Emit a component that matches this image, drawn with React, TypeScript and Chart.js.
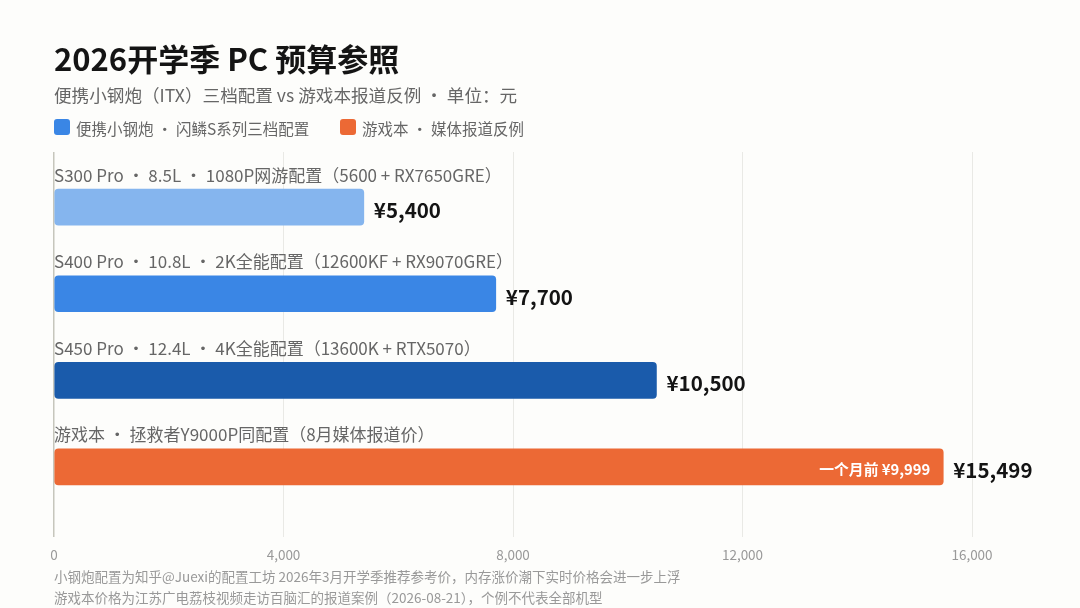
import React, { useRef, useEffect } from 'react';
import { Chart, registerables } from 'chart.js';

Chart.register(...registerables);

const FONT = '"Noto Sans CJK SC", "Noto Sans", sans-serif';

const configs = [
  'S300 Pro · 8.5L · 1080P网游配置（5600 + RX7650GRE）',
  'S400 Pro · 10.8L · 2K全能配置（12600KF + RX9070GRE）',
  'S450 Pro · 12.4L · 4K全能配置（13600K + RTX5070）',
  '游戏本 · 拯救者Y9000P同配置（8月媒体报道价）',
];
const prices = [5400, 7700, 10500, 15499];
const barColors = ['#85B5EE', '#3A86E5', '#1A5BAB', '#EC6935'];
const insideNotes = ['', '', '', '一个月前 ¥9,999'];
const xTicks = [0, 4000, 8000, 12000, 16000];

const legendItems = [
  { label: '便携小钢炮 · 闪鳞S系列三档配置', color: '#3A86E5' },
  { label: '游戏本 · 媒体报道反例', color: '#EC6935' },
];
const footnotes = [
  '小钢炮配置为知乎@Juexi的配置工坊 2026年3月开学季推荐参考价，内存涨价潮下实时价格会进一步上浮',
  '游戏本价格为江苏广电荔枝视频走访百脑汇的报道案例（2026-08-21），个例不代表全部机型',
];

const fmt = (v: number) => v.toLocaleString('en-US');

// text above and beside each bar
const barText = {
  id: 'barText',
  afterDatasetsDraw(chart: any) {
    const { ctx } = chart;
    const bars = chart.getDatasetMeta(0).data;
    ctx.save();
    bars.forEach((bar: any, i: number) => {
      ctx.textBaseline = 'middle';
      ctx.textAlign = 'left';
      ctx.fillStyle = '#666';
      ctx.font = `400 17px ${FONT}`;
      ctx.fillText(configs[i], chart.scales.x.left, bar.y - 32);

      ctx.fillStyle = '#141414';
      ctx.font = `700 20.5px ${FONT}`;
      ctx.fillText('¥' + fmt(prices[i]), bar.x + 10, bar.y + 3);

      if (insideNotes[i]) {
        ctx.textAlign = 'right';
        ctx.fillStyle = '#fff';
        ctx.font = `700 14.8px ${FONT}`;
        ctx.fillText(insideNotes[i], bar.x - 13, bar.y + 2);
      }
    });
    ctx.restore();
  },
};

const App: React.FC = () => {
  const canvas = useRef<HTMLCanvasElement>(null);

  useEffect(() => {
    if (!canvas.current) return;
    document.body.style.margin = '0';
    document.body.style.background = '#FDFDFB';

    const chart = new Chart(canvas.current, {
      type: 'bar',
      data: {
        datasets: [
          {
            data: prices.map((p, i) => ({ x: p, y: i })),
            backgroundColor: barColors,
            barThickness: 36,
            borderRadius: 4,
            borderSkipped: false,
          },
        ],
      },
      options: {
        indexAxis: 'y',
        animation: false,
        responsive: false,
        maintainAspectRatio: false,
        layout: { padding: { left: 54, right: 108, top: 152, bottom: 35 } },
        plugins: { legend: { display: false }, tooltip: { enabled: false } },
        scales: {
          x: {
            type: 'linear',
            min: 0,
            max: 16000,
            afterBuildTicks: (scale: any) => {
              scale.ticks = xTicks.map((value) => ({ value }));
            },
            border: { display: false },
            grid: {
              drawTicks: false,
              color: (c: any) => (c.tick.value === 0 ? '#C6C6BC' : '#E9E9E5'),
              lineWidth: (c: any) => (c.tick.value === 0 ? 1.5 : 1),
            },
            ticks: {
              padding: 10,
              maxRotation: 0,
              color: '#999',
              font: { family: FONT, size: 13.5 },
              callback: (v: any) => fmt(Number(v)),
            },
          },
          y: {
            type: 'linear',
            display: false,
            offset: false,
            reverse: true,
            min: -0.637,
            max: 3.807,
          },
        },
      },
      plugins: [barText],
    });

    return () => chart.destroy();
  }, []);

  return (
    <div style={{ position: 'relative', width: 1080, height: 608, overflow: 'hidden', fontFamily: FONT }}>
      <canvas ref={canvas} width={1080} height={608} style={{ display: 'block' }}></canvas>
      <div style={{ position: 'absolute', left: 54, top: 36, fontSize: 31, fontWeight: 700, lineHeight: '44px', color: '#141414', whiteSpace: 'pre' }}>
        2026开学季 PC 预算参照
      </div>
      <div style={{ position: 'absolute', left: 54, top: 83, fontSize: 17.6, lineHeight: '24px', color: '#666', whiteSpace: 'pre' }}>
        便携小钢炮（ITX）三档配置 vs 游戏本报道反例 · 单位：元
      </div>
      {legendItems.map((item, i) => (
        <div key={item.label} style={{ position: 'absolute', left: i === 0 ? 54 : 340, top: 118, display: 'flex', alignItems: 'center', whiteSpace: 'pre', fontSize: 15.5, lineHeight: '20px', color: '#666' }}>
          <span style={{ width: 16, height: 16, borderRadius: 3, background: item.color, marginRight: 6, marginTop: -2 }}></span>
          {item.label}
        </div>
      ))}
      {footnotes.map((line, i) => (
        <div key={line} style={{ position: 'absolute', left: 54, top: 566 + i * 21, fontSize: 13.5, lineHeight: '20px', color: '#999', whiteSpace: 'pre' }}>
          {line}
        </div>
      ))}
    </div>
  );
};

export default App;
